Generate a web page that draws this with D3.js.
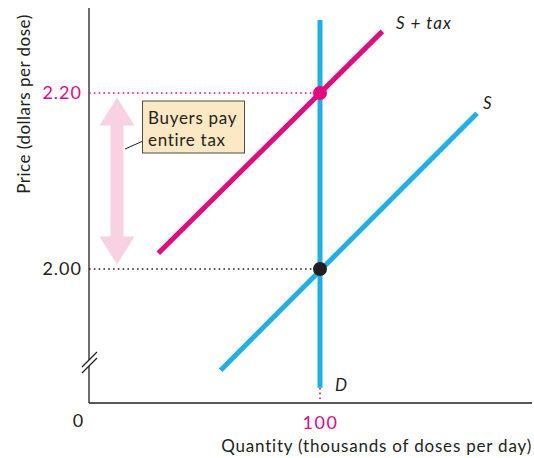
<!DOCTYPE html>
<html>
<head>
<meta charset="utf-8">
<script src="https://cdn.jsdelivr.net/npm/d3@7"></script>
<style>
  html, body { margin: 0; padding: 0; background: #fff; }
  svg { display: block; font-family: Lato, "Open Sans", sans-serif; }
</style>
</head>
<body>
<svg id="chart" width="534" height="458"></svg>
<script>
// ---- data ----
const priceTicks = [2.00, 2.20];
const priceTickLabels = ["2.00", "2.20"];
const quantityTicks = [100];
const quantityTickLabels = ["100"];
const demandCurve = [{q: 100, p: 1.865}, {q: 100, p: 2.283}];
const supplyCurve = [{q: 57, p: 1.885}, {q: 168, p: 2.177}];
const supplyTaxCurve = [{q: 30, p: 2.018}, {q: 127, p: 2.270}];
const equilibriumPoints = [
  {q: 100, p: 2.00, color: "#231f20"},
  {q: 100, p: 2.20, color: "#e5097f"}
];
const arrowPrices = [2.195, 2.005];
const curveLabels = ["S + tax", "S", "D"];

// ---- layout ----
const svg = d3.select("#chart");
const ink = "#231f20", magenta = "#e5097f", blue = "#1cb1e8";
const x = d3.scaleLinear().domain([0, 100]).range([89, 320]);
const y = d3.scaleLinear().domain([2.00, 2.20]).range([269, 93]);
const axisLeftX = 89, axisBottomY = 403, axisTopY = 8, axisRightX = 532;

// axes lines
svg.append("line").attr("x1", axisLeftX).attr("x2", axisLeftX)
  .attr("y1", axisTopY).attr("y2", axisBottomY).attr("stroke", ink).attr("stroke-width", 1.3);
svg.append("line").attr("x1", axisLeftX).attr("x2", axisRightX)
  .attr("y1", axisBottomY).attr("y2", axisBottomY).attr("stroke", ink).attr("stroke-width", 1.3);

// axis break
const bY = 363;
svg.append("rect").attr("x", axisLeftX - 3).attr("y", bY - 3).attr("width", 6).attr("height", 6).attr("fill", "#fff");
[-3, 3].forEach(o => {
  svg.append("line").attr("x1", axisLeftX - 7).attr("y1", bY + o + 7)
    .attr("x2", axisLeftX + 8).attr("y2", bY + o - 8).attr("stroke", ink).attr("stroke-width", 1.2);
});

// y axis ticks
const yAxis = d3.axisLeft(y).tickValues(priceTicks).tickSize(0).tickPadding(7)
  .tickFormat((d, i) => priceTickLabels[i]);
const gy = svg.append("g").attr("transform", `translate(${axisLeftX},0)`).call(yAxis);
gy.select(".domain").remove();
gy.selectAll("text").attr("font-size", 18).attr("font-family", "Lato, sans-serif")
  .attr("letter-spacing", 1)
  .attr("fill", (d) => d === 2.20 ? magenta : ink);

// x axis ticks
const xAxis = d3.axisBottom(x).tickValues(quantityTicks).tickSize(0).tickPadding(13)
  .tickFormat((d, i) => quantityTickLabels[i]);
const gx = svg.append("g").attr("transform", `translate(0,${axisBottomY})`).call(xAxis);
gx.select(".domain").remove();
gx.selectAll("text").attr("font-size", 18).attr("font-family", "Lato, sans-serif")
  .attr("letter-spacing", 1.5).attr("fill", magenta);

// origin label
svg.append("text").attr("x", 78).attr("y", 427).attr("text-anchor", "middle")
  .attr("font-size", 18).attr("fill", ink).text("0");

// axis titles
svg.append("text").attr("x", 532).attr("y", 452).attr("text-anchor", "end")
  .attr("font-size", 17).attr("letter-spacing", 0.8).attr("fill", ink)
  .text("Quantity (thousands of doses per day)");
svg.append("text").attr("transform", "translate(30,104) rotate(-90)").attr("text-anchor", "middle")
  .attr("font-size", 17).attr("letter-spacing", 0.5).attr("fill", ink)
  .text("Price (dollars per dose)");

// guide dotted lines
equilibriumPoints.forEach(pt => {
  svg.append("line").attr("x1", axisLeftX).attr("x2", x(pt.q))
    .attr("y1", y(pt.p)).attr("y2", y(pt.p))
    .attr("stroke", pt.color).attr("stroke-width", 1.6).attr("stroke-dasharray", "1.6 3.2");
});
svg.append("line").attr("x1", x(100)).attr("x2", x(100))
  .attr("y1", y(demandCurve[0].p)).attr("y2", axisBottomY)
  .attr("stroke", magenta).attr("stroke-width", 1.6).attr("stroke-dasharray", "1.6 3.2");

// pink double arrow
const ax = 117, shaftW = 13, headW = 35, headL = 28;
const yTop = y(arrowPrices[0]), yBot = y(arrowPrices[1]);
const arrowPath = d3.path();
arrowPath.moveTo(ax, yTop);
arrowPath.lineTo(ax + headW / 2, yTop + headL);
arrowPath.lineTo(ax + shaftW / 2, yTop + headL);
arrowPath.lineTo(ax + shaftW / 2, yBot - headL);
arrowPath.lineTo(ax + headW / 2, yBot - headL);
arrowPath.lineTo(ax, yBot);
arrowPath.lineTo(ax - headW / 2, yBot - headL);
arrowPath.lineTo(ax - shaftW / 2, yBot - headL);
arrowPath.lineTo(ax - shaftW / 2, yTop + headL);
arrowPath.lineTo(ax - headW / 2, yTop + headL);
arrowPath.closePath();
svg.append("path").attr("d", arrowPath.toString()).attr("fill", "#f8d2e3");

// curves
const line = d3.line().x(d => x(d.q)).y(d => y(d.p));
svg.append("path").datum(demandCurve).attr("d", line).attr("stroke", blue).attr("stroke-width", 5).attr("fill", "none");
svg.append("path").datum(supplyCurve).attr("d", line).attr("stroke", blue).attr("stroke-width", 5).attr("fill", "none");
svg.append("path").datum(supplyTaxCurve).attr("d", line).attr("stroke", magenta).attr("stroke-width", 5).attr("fill", "none");

// equilibrium points
svg.selectAll("circle.eq").data(equilibriumPoints).join("circle").attr("class", "eq")
  .attr("cx", d => x(d.q)).attr("cy", d => y(d.p)).attr("r", 7).attr("fill", d => d.color);

// curve labels
svg.append("text").attr("x", 396).attr("y", 29).attr("font-size", 17).attr("font-style", "italic")
  .attr("letter-spacing", 1).attr("fill", ink).text(curveLabels[0]);
svg.append("text").attr("x", 483).attr("y", 109).attr("font-size", 17).attr("font-style", "italic")
  .attr("fill", ink).text(curveLabels[1]);
svg.append("text").attr("x", 335).attr("y", 391).attr("font-size", 17).attr("font-style", "italic")
  .attr("fill", ink).text(curveLabels[2]);

// callout
svg.append("line").attr("x1", 125).attr("y1", 149).attr("x2", 143).attr("y2", 141)
  .attr("stroke", ink).attr("stroke-width", 1);
svg.append("rect").attr("x", 142.5).attr("y", 101).attr("width", 102).attr("height", 52)
  .attr("fill", "#fde8c4").attr("stroke", "#4d4d4d").attr("stroke-width", 1);
svg.append("text").attr("x", 148).attr("y", 124).attr("font-size", 17).attr("letter-spacing", 0.7)
  .attr("fill", ink).text("Buyers pay");
svg.append("text").attr("x", 148).attr("y", 146).attr("font-size", 17).attr("letter-spacing", 0.7)
  .attr("fill", ink).text("entire tax");
</script>
</body>
</html>
